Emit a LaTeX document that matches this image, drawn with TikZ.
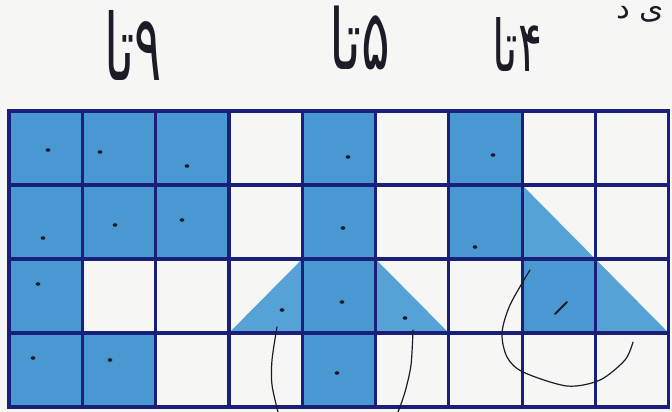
\documentclass[tikz,border=0pt]{standalone}
\usepackage{fontspec}
\usepackage{graphicx}
\newfontfamily\arabicfont[Script=Arabic]{DejaVu Sans}
\TeXXeTstate=1

\definecolor{paper}{RGB}{246,246,244}
\definecolor{cellblue}{RGB}{74,152,210}
\definecolor{halfblue}{RGB}{86,162,214}
\definecolor{gridnavy}{RGB}{26,32,122}
\definecolor{inkpen}{RGB}{28,28,38}

\begin{document}
\begin{tikzpicture}[
    x=1pt, y=-1pt,
    cell/.style     = {fill=cellblue},
    half/.style     = {fill=halfblue},
    gridline/.style = {draw=gridnavy, line width=3.2pt},
    pen/.style      = {draw=inkpen, line width=1.2pt, line cap=round},
    inkdot/.style   = {fill=inkpen},
    hand/.style     = {inner sep=0pt, text=inkpen},
]

%% Paper
\fill[paper] (0,0) rectangle (672,412);
\useasboundingbox (0,0) rectangle (672,412);

%% Counts written above the figures
\node[hand] (nine) at (133.5,45) {\resizebox*{57pt}{70pt}{\arabicfont\beginR ۹تا\endR}};
\node[hand] (five) at (360,38)   {\resizebox*{60pt}{64pt}{\arabicfont\beginR ۵تا\endR}};
\node[hand] (four) at (517,45)   {\resizebox*{50pt}{54pt}{\arabicfont\beginR ۴تا\endR}};
\node[hand] (cut)  at (640,14)   {\resizebox*{48pt}{16pt}{\arabicfont\beginR ی د\endR}};

%% Grid of squares
\begin{scope}[shift={(9,111)}, x=73.3pt, y=-74pt]
  %% Whole squares
  \foreach \c/\r in {0/0,1/0,2/0,4/0,6/0,
                     0/1,1/1,2/1,4/1,6/1,
                     0/2,4/2,7/2,
                     0/3,1/3,4/3}
    \fill[cell] (\c,\r) rectangle ++(1,1);

  %% Half squares
  \fill[half] (3,3) -- (4,3) -- (4,2) -- cycle;
  \fill[half] (5,2) -- (5,3) -- (6,3) -- cycle;
  \fill[half] (7,1) -- (7,2) -- (8,2) -- cycle;
  \fill[half] (8,2) -- (8,3) -- (9,3) -- cycle;

  %% Lines
  \foreach \c in {1,...,8}
    \draw[gridline] (\c,0) -- (\c,4);
  \foreach \r in {1,2,3}
    \draw[gridline] (0,\r) -- (9,\r);
  \draw[gridline] (0,0) rectangle (9,4);
\end{scope}

%% Pen marks in the squares
\foreach \px/\py in {48/150, 100/152, 187/166, 43/238, 115/225, 182/220,
                     38/284, 282/310, 33/358, 110/360, 348/157, 343/228,
                     342/302, 337/373, 405/318, 493/155, 475/247}
  \fill[inkdot] (\px,\py) ellipse (2.4 and 1.8);
\draw[pen, line width=2pt] (555,314) -- (567,302);

%% Pen strokes
\draw[pen] plot[smooth] coordinates {(277,327) (272,360) (272,385) (278,412)};
\draw[pen] plot[smooth] coordinates {(413,330) (411,365) (405,392) (398,412)};
\draw[pen] plot[smooth] coordinates {(530,270) (510,305) (502,333) (507,357)
                                     (523,372) (567,386) (600,380) (625,360) (633,342)};

\end{tikzpicture}
\end{document}
